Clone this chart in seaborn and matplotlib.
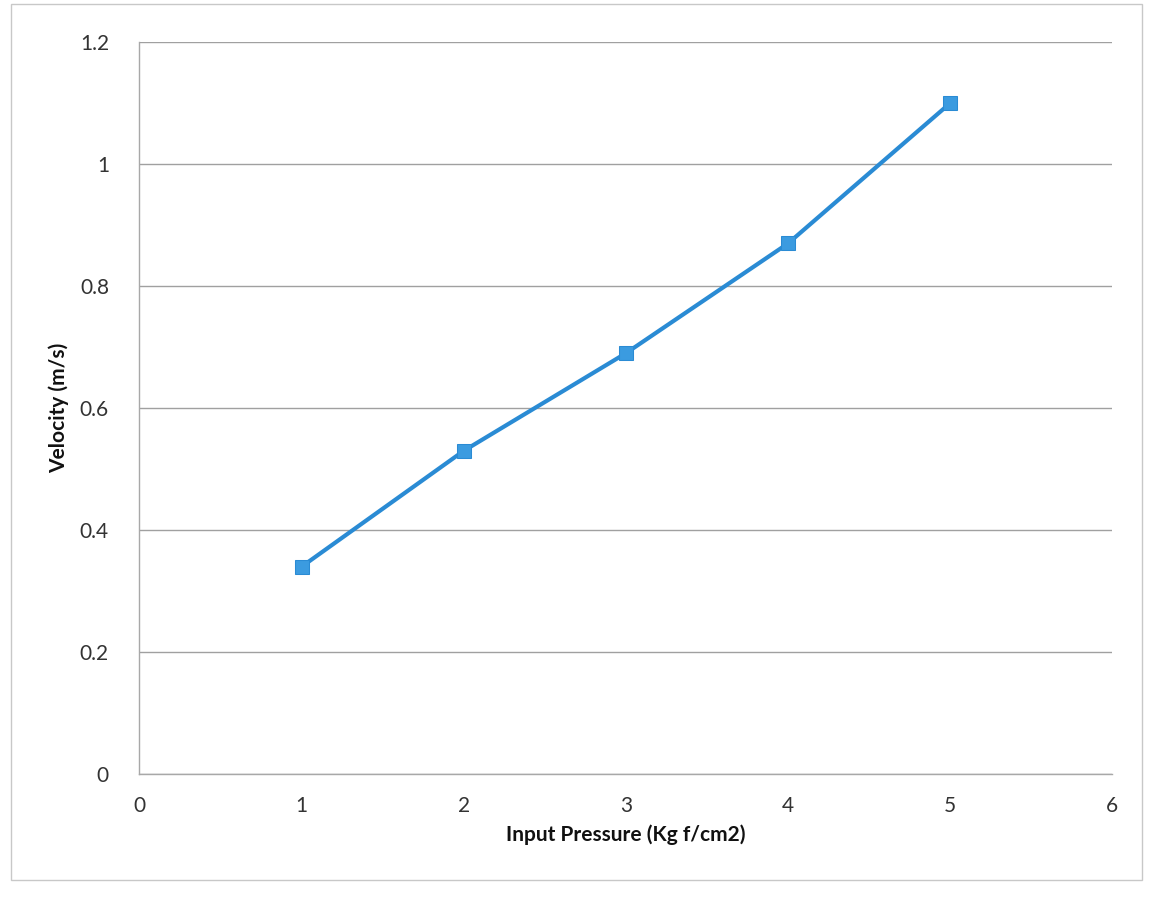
import matplotlib
matplotlib.use("Agg")
import matplotlib.pyplot as plt
import seaborn as sns
import pandas as pd
from matplotlib.patches import Rectangle

# Measured data
pressure = [1, 2, 3, 4, 5]
velocity = [0.34, 0.53, 0.69, 0.87, 1.10]
x_ticks = [0, 1, 2, 3, 4, 5, 6]
y_ticks = [0, 0.2, 0.4, 0.6, 0.8, 1.0, 1.2]
y_tick_labels = ["0", "0.2", "0.4", "0.6", "0.8", "1", "1.2"]

sns.set_theme(style="white")
plt.rcParams["font.family"] = ["Lato", "DejaVu Sans"]

df = pd.DataFrame({"Input Pressure": pressure, "Velocity": velocity})

fig = plt.figure(figsize=(11.72, 8.98), dpi=100)
ax = fig.add_axes([0.119, 0.138, 0.830, 0.815])

sns.lineplot(data=df, x="Input Pressure", y="Velocity", ax=ax,
             color="#2a8bd4", linewidth=3, marker="s", markersize=10,
             markeredgecolor="#2a8bd4", markerfacecolor="#3b9be0")

ax.set_xlim(0, 6)
ax.set_ylim(0, 1.2)
ax.set_xticks(x_ticks)
ax.set_yticks(y_ticks)
ax.set_yticklabels(y_tick_labels)
ax.tick_params(axis="both", length=0, labelsize=15, colors="#333333")
ax.tick_params(axis="y", pad=22)
ax.tick_params(axis="x", pad=16)

ax.yaxis.grid(True, color="#a0a0a0", linewidth=1)
ax.xaxis.grid(False)
for side in ["top", "right"]:
    ax.spines[side].set_visible(False)
for side in ["left", "bottom"]:
    ax.spines[side].set_color("#a8a8a8")
    ax.spines[side].set_linewidth(1)

ax.set_xlabel("Input Pressure (Kg f/cm2)", fontsize=15, fontweight="bold",
              color="#111111", labelpad=6)
ax.set_ylabel("Velocity (m/s)", fontsize=15, fontweight="bold",
              color="#111111", labelpad=8)

# Chart area border
fig.patches.append(Rectangle((0.009, 0.02), 0.965, 0.975, transform=fig.transFigure,
                             fill=False, edgecolor="#c8c8c8", linewidth=1))

fig.savefig("out.png", dpi=100, facecolor="white")
